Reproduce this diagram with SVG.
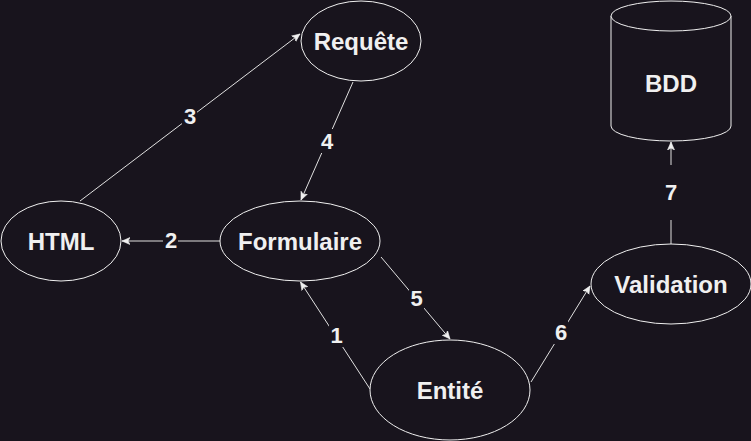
<svg xmlns="http://www.w3.org/2000/svg" width="751" height="441" viewBox="0 0 751 441">
  <style>
    .node { fill: #18141d; stroke: #f0f0f0; stroke-width: 1; }
    .lbl { font-family: "Liberation Sans", Arial, sans-serif; font-weight: bold; font-size: 24px; fill: #f0f0f0; text-anchor: middle; }
    .edge { stroke: #e0e0e0; stroke-width: 1; fill: none; marker-end: url(#arrow); }
    .elbl { font-family: "Liberation Sans", Arial, sans-serif; font-weight: bold; font-size: 22px; fill: #f0f0f0; text-anchor: middle; }
    .ebg { fill: #18141d; }
  </style>
  <defs>
    <marker id="arrow" markerWidth="10" markerHeight="10" refX="8" refY="4" orient="auto" markerUnits="userSpaceOnUse">
      <path d="M0,0.5 L8,4 L0,7.5 L2,4 Z" fill="#f0f0f0" stroke="#f0f0f0" stroke-width="0.6"/>
    </marker>
  </defs>
  <rect x="0" y="0" width="751" height="441" fill="#18141d"/>

  <g id="connectors">
    <line class="edge" x1="370" y1="389" x2="300.5" y2="282"/>
    <line class="edge" x1="220" y1="241" x2="122" y2="241"/>
    <line class="edge" x1="80" y1="201" x2="300" y2="34"/>
    <line class="edge" x1="353" y1="82" x2="301" y2="200"/>
    <line class="edge" x1="381" y1="257" x2="450" y2="339"/>
    <line class="edge" x1="531" y1="382" x2="590" y2="286"/>
    <line class="edge" x1="671" y1="244" x2="671" y2="142"/>
    <g id="edge-labels">
      <rect class="ebg" x="329" y="323" width="15" height="24"/>
      <text class="elbl" x="336.5" y="343">1</text>
      <rect class="ebg" x="163" y="228" width="15" height="24"/>
      <text class="elbl" x="171" y="248">2</text>
      <rect class="ebg" x="182" y="104" width="15" height="24"/>
      <text class="elbl" x="190" y="124">3</text>
      <rect class="ebg" x="319" y="129" width="15" height="24"/>
      <text class="elbl" x="327" y="149">4</text>
      <rect class="ebg" x="409" y="286" width="15" height="24"/>
      <text class="elbl" x="416.5" y="306">5</text>
      <rect class="ebg" x="553" y="320" width="15" height="24"/>
      <text class="elbl" x="561" y="340">6</text>
      <rect class="ebg" x="660" y="165" width="22" height="55"/>
      <text class="elbl" x="671" y="200">7</text>
    </g>
  </g>

  <g id="node-requete">
    <ellipse class="node" cx="361" cy="41" rx="60" ry="40"/>
    <text class="lbl" x="361" y="50">Requête</text>
  </g>
  <g id="node-bdd">
    <path class="node" d="M611,16 A60,15 0 0 1 731,16 L731,126 A60,15 0 0 1 611,126 Z"/>
    <path class="node" fill="none" d="M611,16 A60,15 0 0 0 731,16"/>
    <text class="lbl" x="671" y="92">BDD</text>
  </g>
  <g id="node-html">
    <ellipse class="node" cx="61" cy="241" rx="60" ry="40"/>
    <text class="lbl" x="61" y="250">HTML</text>
  </g>
  <g id="node-formulaire">
    <ellipse class="node" cx="300" cy="241" rx="80" ry="40"/>
    <text class="lbl" x="300" y="250">Formulaire</text>
  </g>
  <g id="node-entite">
    <ellipse class="node" cx="450" cy="390" rx="80" ry="50"/>
    <text class="lbl" x="450" y="399">Entité</text>
  </g>
  <g id="node-validation">
    <ellipse class="node" cx="671" cy="284" rx="80" ry="40"/>
    <text class="lbl" x="671" y="293">Validation</text>
  </g>
</svg>
